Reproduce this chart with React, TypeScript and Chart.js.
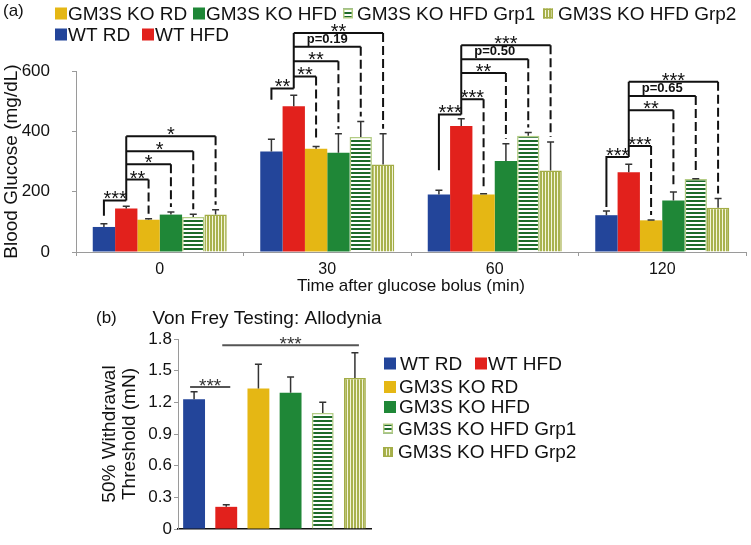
import React, { useEffect, useRef } from "react";
import { Chart, registerables } from "chart.js";
Chart.register(...registerables);

const FONT = '"Liberation Sans", Arial, Helvetica, sans-serif';

// ---------- Panel (a): blood glucose ----------
const timeLabels = ["0", "30", "60", "120"];
const seriesNames = ["WT RD", "WT HFD", "GM3S KO RD", "GM3S KO HFD", "GM3S KO HFD Grp1", "GM3S KO HFD Grp2"];
const wtRD = [83, 333, 191, 122];
const wtRDErr = [11, 41, 14, 14];
const wtHFD = [144, 483, 418, 264];
const wtHFDErr = [8, 37, 24, 27];
const koRD = [107, 342, 191, 105];
const koRDErr = [3, 8, 2, 1];
const koHFD = [124, 329, 302, 171];
const koHFDErr = [9, 63, 57, 28];
const koGrp1 = [116, 381, 385, 242];
const koGrp1Err = [9, 52, 11, 1];
const koGrp2 = [124, 290, 270, 147];
const koGrp2Err = [16, 102, 95, 30];

// significance brackets per time point (WT HFD vs WT RD, then vs each KO group)
const bracketLevels = [
  [171, 240, 291, 334, 384],
  [542, 582, 632, 680, 726],
  [456, 506, 593, 639, 685],
  [315, 351, 470, 517, 564],
];
const bracketLabels = [
  ["***", "**", "*", "*", "*"],
  ["**", "**", "**", "p=0.19", "**"],
  ["***", "***", "**", "p=0.50", "***"],
  ["***", "***", "**", "p=0.65", "***"],
];
const wtLegBottoms = [120, 505, 271, 149];

// ---------- Panel (b): Von Frey ----------
const vfLabels = ["WT RD", "WT HFD", "GM3S KO RD", "GM3S KO HFD", "GM3S KO HFD Grp1", "GM3S KO HFD Grp2"];
const vfValues = [1.23, 0.21, 1.33, 1.29, 1.1, 1.43];
const vfErr = [0.07, 0.02, 0.23, 0.15, 0.1, 0.24];
const vfSigFrom = [0, 1];
const vfSigTo = [1, 5];
const vfSigLevel = [1.345, 1.74];
const vfSigLabel = ["***", "***"];

const seriesValues = [wtRD, wtHFD, koRD, koHFD, koGrp1, koGrp2];
const seriesErrs = [wtRDErr, wtHFDErr, koRDErr, koHFDErr, koGrp1Err, koGrp2Err];

const BLUE = "#23459a";
const RED = "#e2211c";
const YELLOW = "#e5b714";
const GREEN = "#1f8737";
const G1_STRIPE = "#1d6a2a";
const G1_BORDER = "#b3cc84";
const G2_STRIPE = "#a9b24e";
const G2_BORDER = "#a3ad47";

function makePattern(kind: "h" | "v"): CanvasPattern {
  const c = document.createElement("canvas");
  if (kind === "h") {
    c.width = 4;
    c.height = 4;
    const x = c.getContext("2d")!;
    x.fillStyle = "#ffffff";
    x.fillRect(0, 0, 4, 4);
    x.fillStyle = G1_STRIPE;
    x.fillRect(0, 0, 4, 2);
    return x.createPattern(c, "repeat")!;
  }
  c.width = 3;
  c.height = 3;
  const x = c.getContext("2d")!;
  x.fillStyle = "#f4f6dc";
  x.fillRect(0, 0, 3, 3);
  x.fillStyle = G2_STRIPE;
  x.fillRect(0, 0, 2, 3);
  return x.createPattern(c, "repeat")!;
}

function drawBox(ctx: CanvasRenderingContext2D, x: number, yc: number, fill: any, stroke: string | null) {
  if (stroke) {
    ctx.fillStyle = fill;
    ctx.fillRect(x, yc - 5, 10, 10);
    ctx.strokeStyle = stroke;
    ctx.lineWidth = 1.5;
    ctx.setLineDash([]);
    ctx.strokeRect(x + 0.75, yc - 5 + 0.75, 8.5, 8.5);
  } else {
    ctx.fillStyle = fill;
    ctx.fillRect(x, yc - 6, 12, 12);
  }
}

function drawText(ctx: CanvasRenderingContext2D, text: string, x: number, y: number, font: string, align: CanvasTextAlign = "left", color = "#111") {
  ctx.font = font;
  ctx.fillStyle = color;
  ctx.textAlign = align;
  ctx.textBaseline = "middle";
  ctx.fillText(text, x, y);
}

function errorBarPlugin(errs: number[][]) {
  return {
    id: "errbars",
    afterDatasetsDraw(chart: any) {
      const ctx = chart.ctx as CanvasRenderingContext2D;
      const ys = chart.scales.y;
      ctx.save();
      ctx.strokeStyle = "#333";
      ctx.lineWidth = 1.5;
      ctx.setLineDash([]);
      chart.data.datasets.forEach((ds: any, d: number) => {
        const meta = chart.getDatasetMeta(d);
        meta.data.forEach((bar: any, i: number) => {
          const v = ds.data[i];
          const top = ys.getPixelForValue(v + errs[d][i]);
          ctx.beginPath();
          ctx.moveTo(bar.x, bar.y);
          ctx.lineTo(bar.x, top);
          ctx.moveTo(bar.x - 3.5, top);
          ctx.lineTo(bar.x + 3.5, top);
          ctx.stroke();
        });
      });
      ctx.restore();
    },
  };
}

export default function App() {
  const topRef = useRef<HTMLCanvasElement>(null);
  const botRef = useRef<HTMLCanvasElement>(null);

  useEffect(() => {
    const hPat = makePattern("h");
    const vPat = makePattern("v");
    const fills: any[] = [BLUE, RED, YELLOW, GREEN, hPat, vPat];
    const borders = ["rgba(0,0,0,0)", "rgba(0,0,0,0)", "rgba(0,0,0,0)", "rgba(0,0,0,0)", G1_BORDER, G2_BORDER];
    const bws = [0, 0, 0, 0, 1.5, 1.5];

    const sigTop = {
      id: "sigTop",
      afterDraw(chart: any) {
        const ctx = chart.ctx as CanvasRenderingContext2D;
        const ys = chart.scales.y;
        ctx.save();
        for (let g = 0; g < timeLabels.length; g++) {
          const xs = seriesValues.map((_, d) => chart.getDatasetMeta(d).data[g].x);
          const lv = bracketLevels[g];
          const lb = bracketLabels[g];
          const p = (v: number) => ys.getPixelForValue(v);
          ctx.strokeStyle = "#111";
          ctx.lineWidth = 2;
          ctx.setLineDash([]);
          ctx.beginPath();
          ctx.moveTo(xs[0], p(wtLegBottoms[g]));
          ctx.lineTo(xs[0], p(lv[0]));
          ctx.lineTo(xs[1], p(lv[0]));
          ctx.moveTo(xs[1], p(lv[0]));
          ctx.lineTo(xs[1], p(lv[lv.length - 1]));
          for (let k = 1; k < lv.length; k++) {
            const t = k + 1;
            ctx.moveTo(xs[1], p(lv[k]));
            ctx.lineTo(xs[t], p(lv[k]));
          }
          ctx.stroke();
          ctx.setLineDash([9, 4]);
          ctx.beginPath();
          for (let k = 1; k < lv.length; k++) {
            const t = k + 1;
            ctx.moveTo(xs[t], p(lv[k]));
            ctx.lineTo(xs[t], p(seriesValues[t][g] + seriesErrs[t][g]) - 5);
          }
          ctx.stroke();
          ctx.setLineDash([]);
          for (let k = 0; k < lv.length; k++) {
            const cx = k === 0 ? (xs[0] + xs[1]) / 2 : (xs[1] + xs[k + 1]) / 2;
            const label = lb[k];
            ctx.fillStyle = "#111";
            ctx.textAlign = "center";
            ctx.textBaseline = "alphabetic";
            if (label.startsWith("p")) {
              ctx.font = `bold 13px ${FONT}`;
              ctx.fillText(label, cx, p(lv[k]) - 4);
            } else {
              ctx.font = `20px ${FONT}`;
              ctx.fillText(label, cx, p(lv[k]) + 5);
            }
          }
        }
        // panel label + legend
        drawText(ctx, "(a)", 3, 11, `17px ${FONT}`);
        const f = `19px ${FONT}`;
        const row1 = 13.5;
        const row2 = 34.5;
        drawBox(ctx, 55, row1, fills[2], null);
        drawText(ctx, seriesNames[2], 68, row1 + 1, f);
        drawBox(ctx, 193, row1, fills[3], null);
        drawText(ctx, seriesNames[3], 206, row1 + 1, f);
        drawBox(ctx, 343, row1, fills[4], G1_BORDER);
        drawText(ctx, seriesNames[4], 357, row1 + 1, f);
        drawBox(ctx, 543, row1, fills[5], G2_BORDER);
        drawText(ctx, seriesNames[5], 558, row1 + 1, f);
        drawBox(ctx, 55, row2, fills[0], null);
        drawText(ctx, seriesNames[0], 68, row2 + 1, f);
        drawBox(ctx, 142, row2, fills[1], null);
        drawText(ctx, seriesNames[1], 155, row2 + 1, f);
        ctx.restore();
      },
    };

    const top = new Chart(topRef.current!, {
      type: "bar",
      data: {
        labels: timeLabels,
        datasets: seriesValues.map((d, i) => ({
          label: seriesNames[i],
          data: d,
          backgroundColor: fills[i],
          borderColor: borders[i],
          borderWidth: bws[i],
          categoryPercentage: 0.8,
          barPercentage: 1.0,
        })),
      },
      options: {
        responsive: false,
        animation: false,
        devicePixelRatio: 1,
        layout: { padding: { top: 71, right: 5, left: 0, bottom: 0 } },
        plugins: { legend: { display: false }, tooltip: { enabled: false } },
        scales: {
          x: {
            grid: { display: true, drawOnChartArea: false, drawTicks: true, tickLength: 4, color: "#9a9a9a", offset: true },
            border: { color: "#9a9a9a", width: 1 },
            ticks: { font: { family: FONT, size: 16 }, color: "#111", padding: 4 },
            title: {
              display: true,
              text: "Time after glucose bolus (min)",
              font: { family: FONT, size: 17 },
              color: "#111",
              padding: { top: 0, bottom: 3 },
            },
            afterFit: (s: any) => {
              s.height = 48;
            },
          },
          y: {
            min: 0,
            max: 600,
            ticks: { stepSize: 200, font: { family: FONT, size: 17 }, color: "#111", padding: 22 },
            grid: { drawOnChartArea: false, tickLength: 4, color: "#9a9a9a" },
            border: { color: "#9a9a9a", width: 1 },
            title: {
              display: true,
              text: "Blood Glucose (mg/dL)",
              font: { family: FONT, size: 19 },
              color: "#111",
              padding: { top: 0, bottom: 0 },
            },
            afterFit: (s: any) => {
              s.width = 76;
            },
          },
        },
      } as any,
      plugins: [errorBarPlugin(seriesErrs), sigTop],
    });

    const sigBot = {
      id: "sigBot",
      afterDraw(chart: any) {
        const ctx = chart.ctx as CanvasRenderingContext2D;
        const ys = chart.scales.y;
        const meta = chart.getDatasetMeta(0);
        ctx.save();
        ctx.strokeStyle = "#555";
        ctx.lineWidth = 2;
        ctx.setLineDash([]);
        for (let k = 0; k < vfSigFrom.length; k++) {
          const x1 = meta.data[vfSigFrom[k]].x - 4;
          const x2 = meta.data[vfSigTo[k]].x + 4;
          const py = ys.getPixelForValue(vfSigLevel[k]);
          ctx.beginPath();
          ctx.moveTo(x1, py);
          ctx.lineTo(x2, py);
          ctx.stroke();
          ctx.font = `19px ${FONT}`;
          ctx.fillStyle = "#333";
          ctx.textAlign = "center";
          ctx.textBaseline = "alphabetic";
          ctx.fillText(vfSigLabel[k], (x1 + x2) / 2, py + 5);
        }
        drawText(ctx, "(b)", 96, 18, `17px ${FONT}`);
        drawText(ctx, "Von Frey Testing: Allodynia", 267, 19, `19px ${FONT}`, "center");
        const f = `19px ${FONT}`;
        drawBox(ctx, 384, 63.5, fills[0], null);
        drawText(ctx, vfLabels[0], 400, 64.5, f);
        drawBox(ctx, 475, 63.5, fills[1], null);
        drawText(ctx, vfLabels[1], 488, 64.5, f);
        drawBox(ctx, 384, 87, fills[2], null);
        drawText(ctx, vfLabels[2], 399, 88, f);
        drawBox(ctx, 384, 107, fills[3], null);
        drawText(ctx, vfLabels[3], 399, 108, f);
        drawBox(ctx, 383, 128.5, fills[4], G1_BORDER);
        drawText(ctx, vfLabels[4], 398, 129.5, f);
        drawBox(ctx, 383, 152, fills[5], G2_BORDER);
        drawText(ctx, vfLabels[5], 398, 153, f);
        ctx.restore();
      },
    };

    const bot = new Chart(botRef.current!, {
      type: "bar",
      data: {
        labels: vfLabels,
        datasets: [
          {
            label: "Von Frey",
            data: vfValues,
            backgroundColor: fills,
            borderColor: borders,
            borderWidth: bws,
            categoryPercentage: 0.68,
            barPercentage: 1.0,
          },
        ],
      },
      options: {
        responsive: false,
        animation: false,
        devicePixelRatio: 1,
        layout: { padding: { top: 39, right: 380, left: 0, bottom: 0 } },
        plugins: { legend: { display: false }, tooltip: { enabled: false } },
        scales: {
          x: {
            ticks: { display: false },
            grid: { display: false },
            border: { color: "#111", width: 1.5 },
            afterFit: (s: any) => {
              s.height = 16;
            },
          },
          y: {
            min: 0,
            max: 1.8,
            ticks: {
              stepSize: 0.3,
              font: { family: FONT, size: 17 },
              color: "#111",
              padding: 2,
              callback: (v: any) => String(Math.round(Number(v) * 10) / 10),
            },
            grid: { drawOnChartArea: false, tickLength: 4, color: "#9a9a9a" },
            border: { color: "#9a9a9a", width: 1 },
            title: {
              display: true,
              text: ["50% Withdrawal", "Threshold (mN)"],
              font: { family: FONT, size: 19, lineHeight: 1.05 },
              color: "#111",
              padding: { top: 100, bottom: 0 },
            },
            afterFit: (s: any) => {
              s.width = 178;
            },
          },
        },
      } as any,
      plugins: [errorBarPlugin([vfErr]), sigBot],
    });

    return () => {
      top.destroy();
      bot.destroy();
    };
  }, []);

  return (
    <div style={{ position: "absolute", left: 0, top: 0, width: 751, height: 545, background: "#fff" }}>
      <canvas
        ref={topRef}
        width={751}
        height={300}
        style={{ position: "absolute", left: 0, top: 0, width: 751, height: 300 }}
      />
      <canvas
        ref={botRef}
        width={751}
        height={245}
        style={{ position: "absolute", left: 0, top: 300, width: 751, height: 245 }}
      />
    </div>
  );
}
